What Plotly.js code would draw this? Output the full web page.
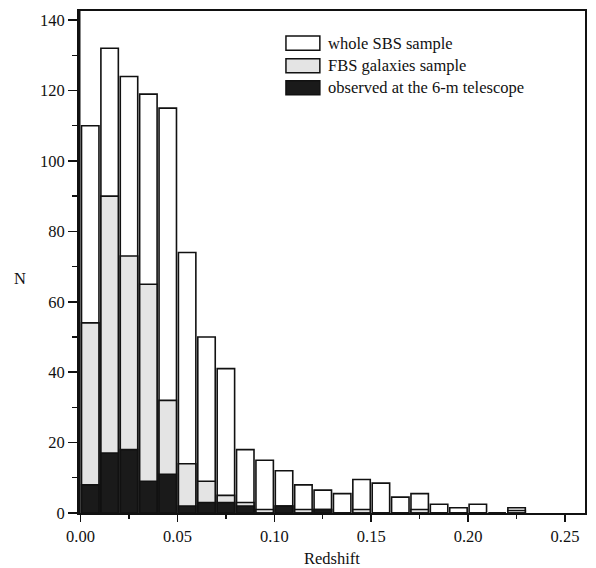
<!DOCTYPE html>
<html>
<head>
<meta charset="utf-8">
<script src="https://cdn.plot.ly/plotly-3.0.1.min.js"></script>
<style>html,body{margin:0;padding:0;background:#fff;}#chart{width:596px;height:568px;}</style>
</head>
<body>
<div id="chart"></div>
<script>
// Redshift bin centres (bin width 0.01)
const redshiftBins = [0.005, 0.015, 0.025, 0.035, 0.045, 0.055, 0.065, 0.075, 0.085, 0.095,
  0.105, 0.115, 0.125, 0.135, 0.145, 0.155, 0.165, 0.175, 0.185, 0.195, 0.205, 0.215, 0.225];
// whole SBS sample
const sbsCounts = [110, 132, 124, 119, 115, 74, 50, 41, 18, 15, 12, 8, 6.5, 5.5, 9.5, 8.5, 4.5, 5.5, 2.5, 1.5, 2.5, 0, 1.5];
// FBS galaxies sample
const fbsCounts = [54, 90, 73, 65, 32, 14, 9, 5, 3, 1, 2, 1, 1, 0, 1, 0, 0, 1, 0, 0, 0, 0, 0.7];
// observed at the 6-m telescope
const obsCounts = [8, 17, 18, 9, 11, 2, 3, 3, 2, 0, 2, 0, 1, 0, 0, 0, 0, 0, 0, 0, 0, 0, 0];

const legendNames = ['whole SBS sample', 'FBS galaxies sample', 'observed at the 6-m telescope'];
const xTickVals = [0, 0.05, 0.10, 0.15, 0.20, 0.25];
const xTickText = ['0.00', '0.05', '0.10', '0.15', '0.20', '0.25'];
const yTickVals = [0, 20, 40, 60, 80, 100, 120, 140];

const fills = ['#ffffff', '#e4e4e4', '#1a1a1a'];
const serif = 'Liberation Serif, Times New Roman, serif';
const barW = 0.009;

const series = [sbsCounts, fbsCounts, obsCounts];
const traces = series.map((vals, i) => ({
  type: 'bar',
  x: redshiftBins,
  y: vals,
  width: barW,
  name: legendNames[i],
  marker: {color: fills[i], line: {color: '#111', width: 1.6}},
  showlegend: false,
  hoverinfo: 'x+y'
}));

// custom legend (wide boxes like the original)
const shapes = [];
const annotations = [];
const rowTop = [0.950, 0.905, 0.861];
const boxH = 0.028;
for (let i = 0; i < 3; i++) {
  shapes.push({type: 'rect', xref: 'paper', yref: 'paper',
    x0: 0.409, x1: 0.476, y0: rowTop[i] - boxH, y1: rowTop[i],
    fillcolor: fills[i], line: {color: '#111', width: 1.5}});
  annotations.push({xref: 'paper', yref: 'paper', x: 0.488, y: rowTop[i] - boxH / 2,
    xanchor: 'left', yanchor: 'middle', showarrow: false, text: legendNames[i],
    font: {family: serif, size: 16.5, color: '#111'}});
}
// thick left axis line
shapes.push({type: 'line', xref: 'paper', yref: 'paper', x0: 0, x1: 0, y0: 0, y1: 1,
  line: {color: '#111', width: 3}});
// horizontal "N" axis label
annotations.push({xref: 'paper', yref: 'paper', x: -0.117, y: 0.468, xanchor: 'center', yanchor: 'middle',
  showarrow: false, text: 'N', font: {family: serif, size: 16.5, color: '#111'}});

const layout = {
  width: 596, height: 568,
  margin: {l: 79, r: 11, t: 11, b: 55, pad: 0},
  paper_bgcolor: '#fff', plot_bgcolor: '#fff',
  barmode: 'overlay',
  showlegend: false,
  font: {family: serif, size: 16.5, color: '#111'},
  xaxis: {
    range: [-0.0008, 0.2603],
    tickvals: xTickVals, ticktext: xTickText,
    ticks: 'outside', ticklen: 7, tickwidth: 1.6, tickcolor: '#111',
    minor: {dtick: 0.025, tick0: 0, ticks: 'outside', ticklen: 4, tickwidth: 1.4, tickcolor: '#111'},
    showgrid: false, zeroline: false,
    showline: true, linecolor: '#111', linewidth: 2, mirror: true,
    tickfont: {family: serif, size: 16.5, color: '#111'},
    title: {text: 'Redshift', font: {family: serif, size: 16.5, color: '#111'}, standoff: 8},
    automargin: false
  },
  yaxis: {
    range: [0, 142.6],
    tickvals: yTickVals,
    ticks: 'outside', ticklen: 9, tickwidth: 1.6, tickcolor: '#111',
    minor: {dtick: 10, tick0: 0, ticks: 'outside', ticklen: 5, tickwidth: 1.4, tickcolor: '#111'},
    showgrid: false, zeroline: false,
    showline: true, linecolor: '#111', linewidth: 2, mirror: true,
    tickfont: {family: serif, size: 16.5, color: '#111'},
    automargin: false
  },
  shapes: shapes,
  annotations: annotations
};

Plotly.newPlot('chart', traces, layout, {staticPlot: true, displayModeBar: false});
</script>
</body>
</html>
